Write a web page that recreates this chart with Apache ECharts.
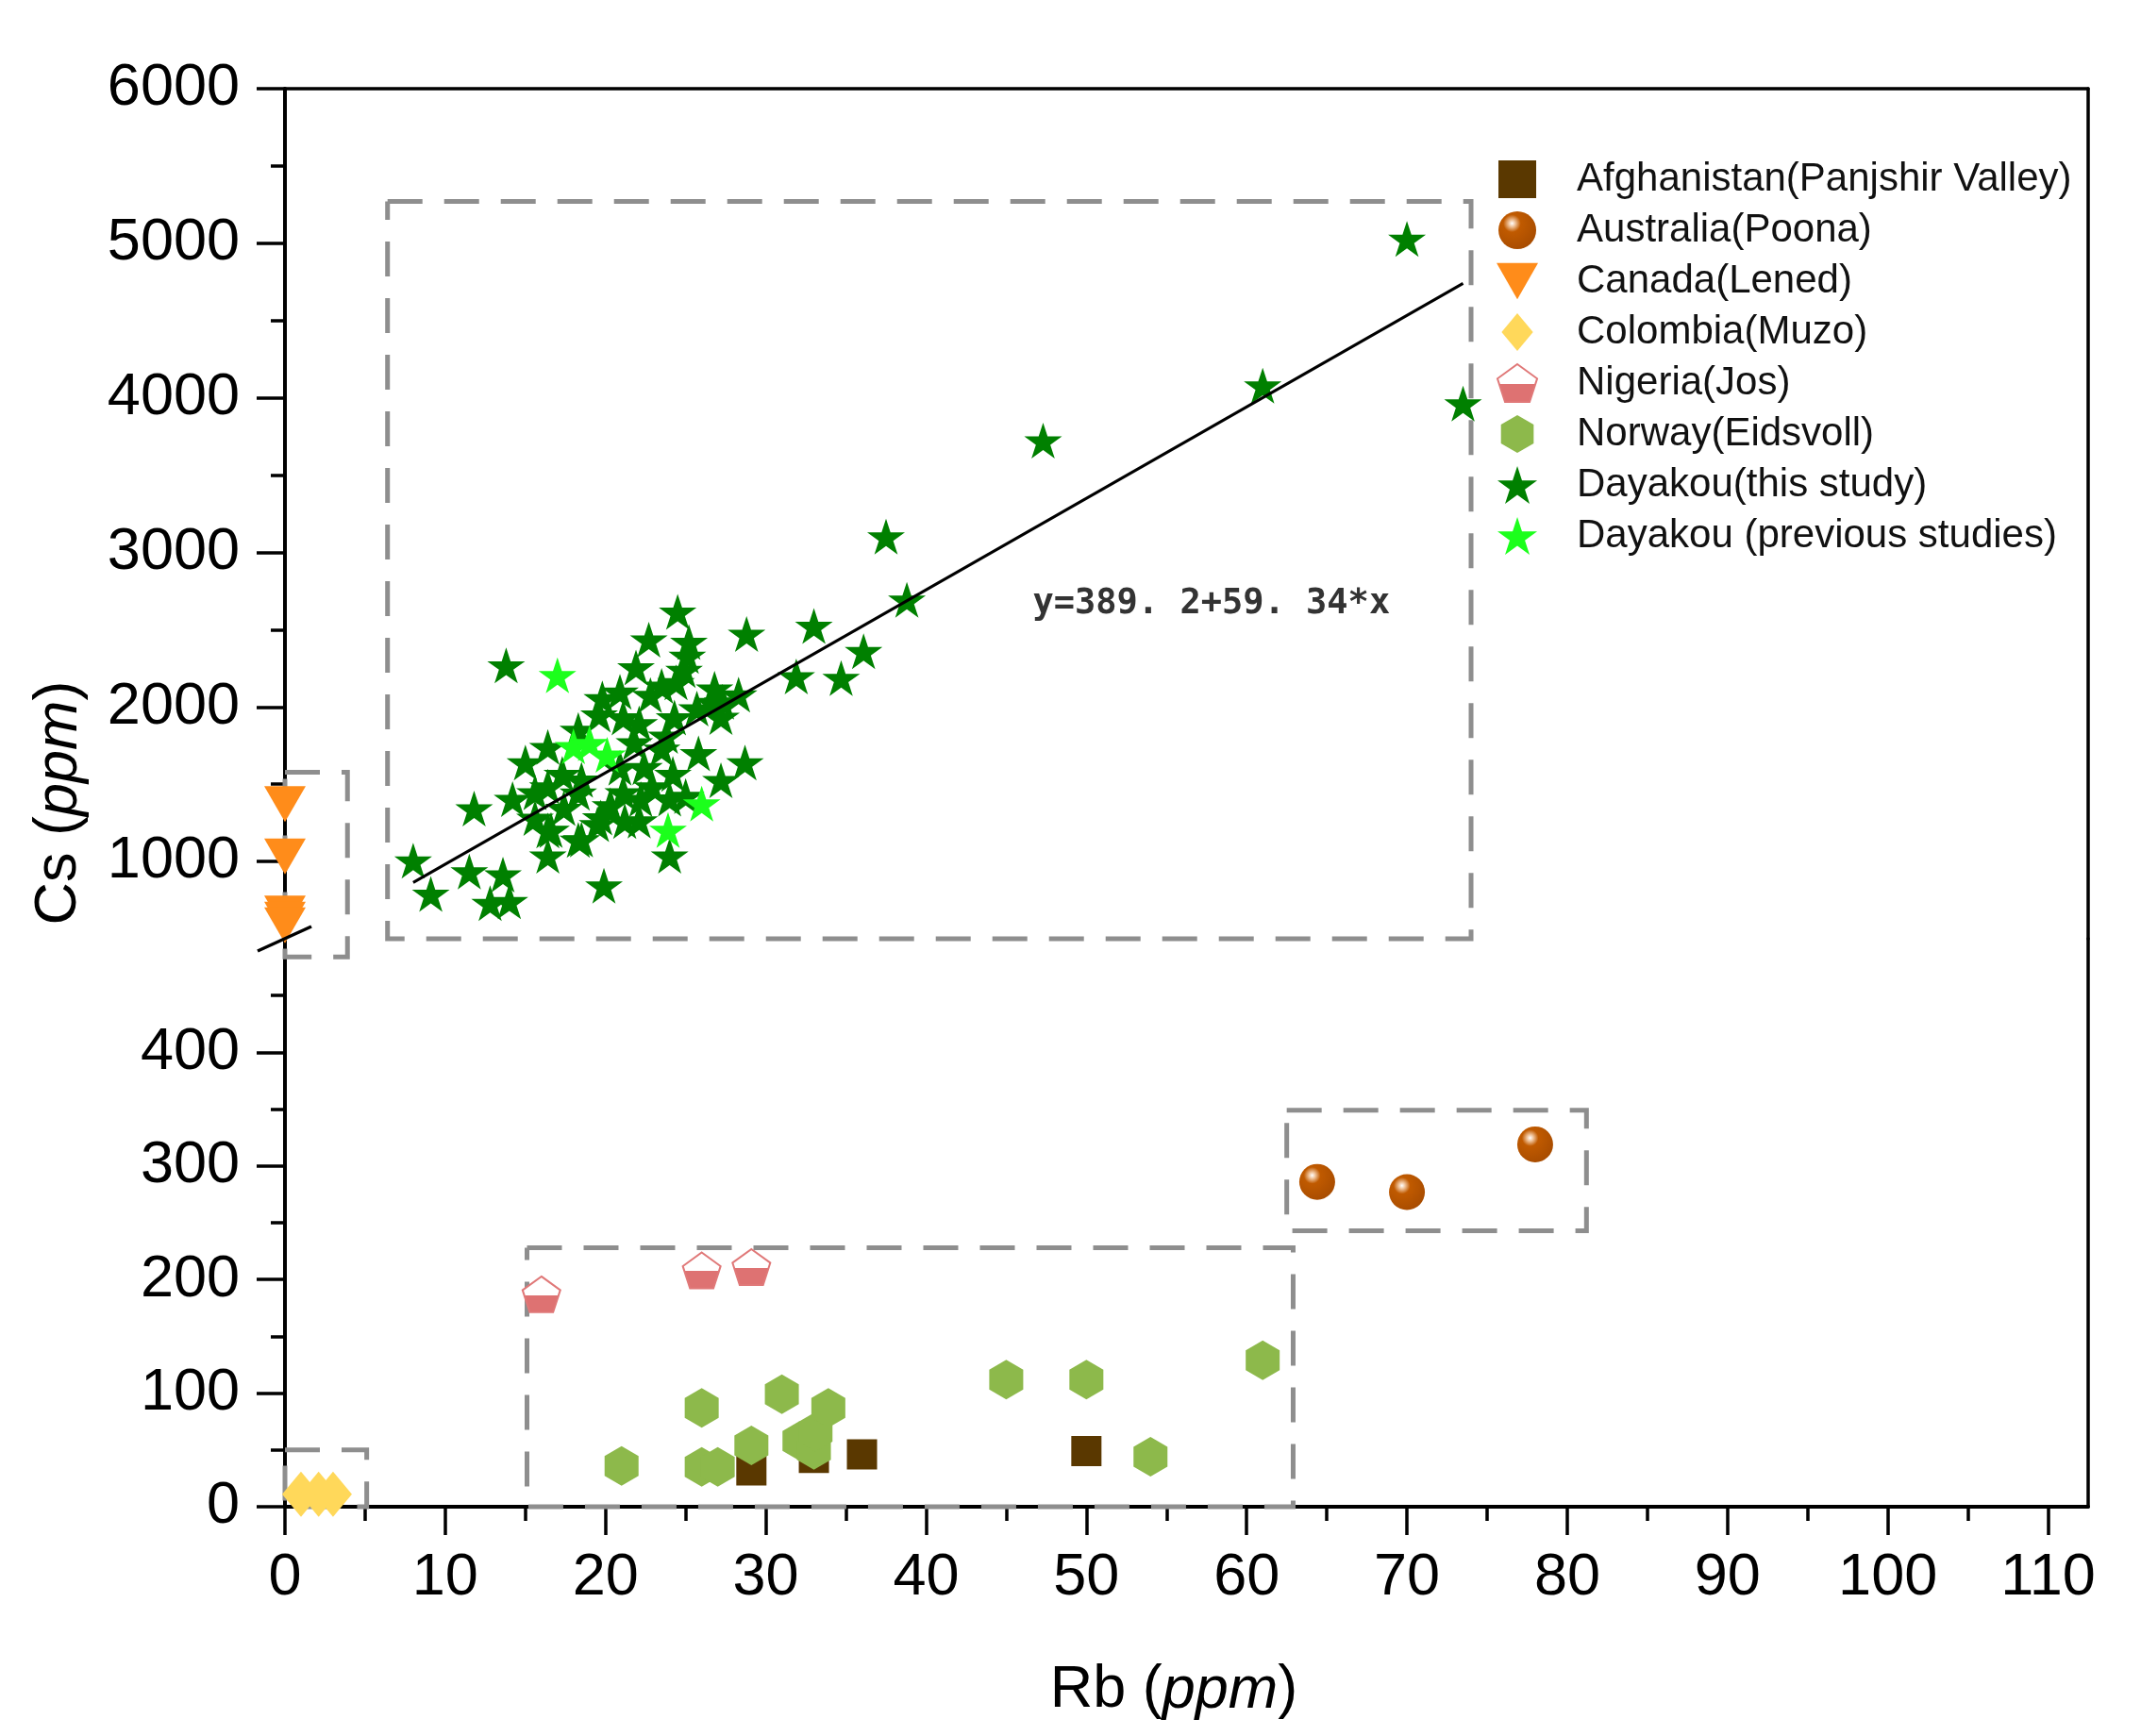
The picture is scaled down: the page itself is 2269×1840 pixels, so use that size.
<!DOCTYPE html>
<html>
<head>
<meta charset="utf-8">
<script src="https://cdn.jsdelivr.net/npm/echarts@6/dist/echarts.min.js"></script>
<style>
html,body{margin:0;padding:0;background:#fff;}
#chart{width:2269px;height:1840px;}
</style>
</head>
<body>
<div id="chart"></div>
<script>
var FONT = 'Liberation Sans, Arial, sans-serif';

// ---- data: [Rb, Cs] ----
var afghanistan = [[29.1,32],[33.0,43],[36.0,46],[50.0,49]];
var australia = [[64.4,286],[70.0,277],[78.0,319]];
var canada = [[0,1372],[0,1032],[0,664],[0,624],[0,587]];
var colombia = [[1.0,11],[2.1,11],[3.0,11]];
var nigeria = [[16.0,187],[26.0,208],[29.1,211]];
var norway = [[21.0,36],[26.0,87],[26.0,35],[27.0,35],[29.1,54],[31.0,99],[32.1,58],
              [33.0,50],[33.1,66],[33.9,87],[45.0,112],[50.0,112],[54.0,44],[61.0,129]];
var dayakouThis = [
  [24.5,2615],[22.7,2435],[25.2,2420],[25.1,2330],[24.9,2238],[28.8,2472],[13.8,2268],
  [21.9,2255],[20.9,2098],[22.8,2077],[23.5,2136],[26.8,2118],[28.3,2080],[19.6,1950],
  [21.1,1932],[22.1,1894],[24.3,1932],[25.7,1990],[16.4,1740],[15.0,1640],[14.2,1403],
  [16.4,1485],[18.3,1444],[20.9,1607],[22.4,1609],[23.5,1729],[24.2,1566],[25.8,1700],
  [28.7,1640],[27.2,1525],[11.8,1342],[16.4,1200],[18.3,1139],[16.4,1037],[21.2,1261],
  [20.3,1363],[22.2,1403],[24.0,1037],[8.0,1005],[9.1,790],[11.5,935],[13.6,915],
  [12.8,730],[14.0,742],[19.9,844],[22.9,1485],[25.0,1424],[17.3,1566],[15.6,1281],
  [19.5,1241],[21.8,1770],[18.3,1851],[19.8,2055],[24.4,2159],[23.8,1813],[18.5,1528],
  [15.6,1447],[21.1,1447],[24.0,1406],[17.4,1345],[19.7,1284],[22.1,1264],[16.6,1203],
  [18.5,1142],[27.2,1935],[26.7,2030],[33.0,2523],[36.1,2360],[31.9,2197],[34.7,2187],
  [27.3,2034],[37.5,3102],[38.8,2693],[47.3,3723],[61.0,4078],[70.0,5028],[73.5,3963]
];
var dayakouPrev = [[17.0,2205],[18.0,1745],[19.0,1765],[20.1,1690],[26.0,1375],[23.9,1203]];

// regression line end points and equation anchor
var fitLine = [[8.0,864],[73.5,4740]];
var fitText = 'y=389. 2+59. 34*x';
var fitTextPos = [57.8, 2667];

// dashed frames round the groups: [x0, x1, y0, y1]
var boxes = [
  [6.4, 74.0, 500, 5270],
  [0, 3.9, 484, 1577],
  [0, 5.1, 0, 50],
  [15.1, 62.9, 0, 228],
  [62.5, 81.2, 243, 349]
];

// axis ticks
var X_MAX = 112.5;
var Y_BREAK = 500;
var xMajor = [0,10,20,30,40,50,60,70,80,90,100,110];
var xMinor = [5,15,25,35,45,55,65,75,85,95,105];
var upperMajor = [1000,2000,3000,4000,5000,6000];
var upperMinor = [1500,2500,3500,4500,5500];
var lowerMajor = [0,100,200,300,400];
var lowerMinor = [50,150,250,350,450];

var names = ['Afghanistan(Panjshir Valley)','Australia(Poona)','Canada(Lened)','Colombia(Muzo)',
             'Nigeria(Jos)','Norway(Eidsvoll)','Dayakou(this study)','Dayakou (previous studies)'];

var STAR = 'path://M50,0L61.23,34.55L97.55,34.55L68.17,55.9L79.39,90.45L50,69.1L20.61,90.45L31.83,55.9L2.45,34.55L38.77,34.55Z';
var HEX = 'path://M50,0L93.3,25L93.3,75L50,100L6.7,75L6.7,25Z';
var PENT = 'path://M50,0L97.55,34.55L79.39,90.45L20.61,90.45L2.45,34.55Z';
var TRI_DOWN = 'path://M0,0L100,0L50,87Z';
var SQUARE = 'path://M0,0L100,0L100,100L0,100Z';
var DIAMOND = 'path://M50,0L100,60L50,120L0,60Z';

var chart = echarts.init(document.getElementById('chart'));

function plain(v) { return String(v); }

function majorY(grid, vals, min, max) {
  return {
    gridIndex: grid, type: 'value', min: min, max: max, position: 'left',
    axisLine: {show: true, onZero: false, lineStyle: {color: '#000', width: 4}},
    axisTick: {show: true, length: 30, customValues: vals, lineStyle: {color: '#000', width: 3.5}},
    axisLabel: {customValues: vals, formatter: plain, fontSize: 63, fontFamily: FONT, color: '#000', margin: 48},
    splitLine: {show: false}
  };
}
function minorY(grid, vals, min, max) {
  return {
    gridIndex: grid, type: 'value', min: min, max: max, position: 'left',
    axisLine: {show: false},
    axisTick: {show: true, length: 15, customValues: vals, lineStyle: {color: '#000', width: 3.5}},
    axisLabel: {show: false}, splitLine: {show: false}
  };
}
function frameY(grid, min, max) {
  return {
    gridIndex: grid, type: 'value', min: min, max: max, position: 'right',
    axisLine: {show: true, onZero: false, lineStyle: {color: '#000', width: 3.5}},
    axisTick: {show: false}, axisLabel: {show: false}, splitLine: {show: false}
  };
}

function pts(name, data, lower, symbol, size, style) {
  style.opacity = 1;
  return {
    name: name, type: 'scatter', data: data,
    xAxisIndex: lower ? 1 : 0, yAxisIndex: lower ? 3 : 0,
    symbol: symbol, symbolSize: size, itemStyle: style, clip: false
  };
}

var option = {
  backgroundColor: '#fff',
  animation: false,
  grid: [
    {left: 302, top: 94, width: 1911, height: 901},
    {left: 302, top: 995, width: 1911, height: 602}
  ],
  xAxis: [
    {gridIndex: 0, type: 'value', min: 0, max: X_MAX, position: 'top',
     axisLine: {show: true, onZero: false, lineStyle: {color: '#000', width: 3.5}},
     axisTick: {show: false}, axisLabel: {show: false}, splitLine: {show: false}},
    {gridIndex: 1, type: 'value', min: 0, max: X_MAX, position: 'bottom',
     axisLine: {show: true, onZero: false, lineStyle: {color: '#000', width: 4}},
     axisTick: {show: true, length: 30, customValues: xMajor, lineStyle: {color: '#000', width: 3.5}},
     axisLabel: {customValues: xMajor, formatter: plain, fontSize: 63, fontFamily: FONT, color: '#000', margin: 44},
     splitLine: {show: false}},
    {gridIndex: 1, type: 'value', min: 0, max: X_MAX, position: 'bottom',
     axisLine: {show: false},
     axisTick: {show: true, length: 15, customValues: xMinor, lineStyle: {color: '#000', width: 3.5}},
     axisLabel: {show: false}, splitLine: {show: false}}
  ],
  yAxis: [
    majorY(0, upperMajor, Y_BREAK, 6000),
    minorY(0, upperMinor, Y_BREAK, 6000),
    frameY(0, Y_BREAK, 6000),
    majorY(1, lowerMajor, 0, Y_BREAK),
    minorY(1, lowerMinor, 0, Y_BREAK),
    frameY(1, 0, Y_BREAK)
  ],
  legend: {
    orient: 'vertical', left: 1586, top: 169, padding: 0,
    itemWidth: 44, itemHeight: 40, itemGap: 12,
    data: names,
    textStyle: {fontSize: 42, fontFamily: FONT, color: '#111', lineHeight: 40, padding: [0, 0, 0, 36]}
  },
  series: [
    pts(names[0], afghanistan, true, SQUARE, 32, {color: '#5A3800'}),
    pts(names[1], australia, true, 'circle', 38, {color: {
      type: 'radial', x: 0.36, y: 0.32, r: 0.72,
      colorStops: [{offset: 0, color: '#ffffff'}, {offset: 0.12, color: '#f0c49c'},
                   {offset: 0.32, color: '#c05a00'}, {offset: 1, color: '#a84c00'}]}}),
    pts(names[2], canada, false, TRI_DOWN, [44, 38], {color: '#FF8C1A'}),
    pts(names[3], colombia, true, DIAMOND, [40, 48], {color: '#FFD85A'}),
    pts(names[4], nigeria, true, PENT, [40, 38], {
      color: {type: 'linear', x: 0, y: 0, x2: 0, y2: 1,
              colorStops: [{offset: 0, color: '#ffffff'}, {offset: 0.52, color: '#ffffff'},
                           {offset: 0.52, color: '#DE7272'}, {offset: 1, color: '#DE7272'}]},
      borderColor: '#E07878', borderWidth: 2}),
    pts(names[5], norway, true, HEX, [36, 42], {color: '#8DB94B'}),
    pts(names[6], dayakouThis, false, STAR, [40, 38], {color: '#008000'}),
    pts(names[7], dayakouPrev, false, STAR, [40, 38], {color: '#1CFF1C'}),
    {type: 'line', xAxisIndex: 0, yAxisIndex: 0, data: fitLine, symbol: 'none', silent: true,
     lineStyle: {color: '#000', width: 3}, z: 5}
  ]
};

chart.setOption(option);

// value -> pixel on the broken y axis
function toPx(x, y) {
  if (y >= Y_BREAK) return chart.convertToPixel({xAxisIndex: 0, yAxisIndex: 0}, [x, y]);
  return chart.convertToPixel({xAxisIndex: 1, yAxisIndex: 3}, [x, y]);
}

var graphics = [];
boxes.forEach(function (b) {
  graphics.push({
    type: 'polyline', z: 1, silent: true,
    shape: {points: [toPx(b[0], b[3]), toPx(b[1], b[3]), toPx(b[1], b[2]), toPx(b[0], b[2]), toPx(b[0], b[3])]},
    style: {fill: null, stroke: '#8E8E8E', lineWidth: 5, lineDash: [37, 23]}
  });
});

var bp = toPx(0, Y_BREAK);
graphics.push({
  type: 'line', z: 10, silent: true,
  shape: {x1: bp[0] - 29, y1: bp[1] + 13, x2: bp[0] + 28, y2: bp[1] - 13},
  style: {stroke: '#000', lineWidth: 3.5}
});

var tp = toPx(fitTextPos[0], fitTextPos[1]);
graphics.push({
  type: 'text', z: 10, silent: true, x: tp[0], y: tp[1],
  style: {text: fitText, fill: '#333', font: 'bold 37px "DejaVu Sans Mono", monospace',
          align: 'center', verticalAlign: 'middle'}
});

graphics.push({
  type: 'text', z: 10, silent: true, x: 1244, y: 1792,
  style: {text: '{n|Rb (}{i|ppm}{n|)}', align: 'center', verticalAlign: 'middle',
          rich: {n: {fontSize: 63, fontFamily: FONT, fill: '#000'},
                 i: {fontSize: 63, fontFamily: FONT, fontStyle: 'italic', fill: '#000'}}}
});
graphics.push({
  type: 'text', z: 10, silent: true, x: 63, y: 851, rotation: Math.PI / 2,
  style: {text: '{n|Cs (}{i|ppm}{n|)}', align: 'center', verticalAlign: 'middle',
          rich: {n: {fontSize: 63, fontFamily: FONT, fill: '#000'},
                 i: {fontSize: 63, fontFamily: FONT, fontStyle: 'italic', fill: '#000'}}}
});

chart.setOption({graphic: graphics});
</script>
</body>
</html>
